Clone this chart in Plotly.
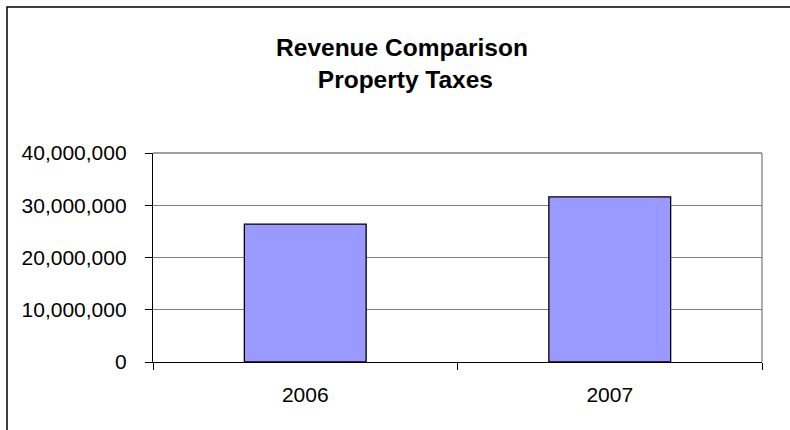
import plotly.graph_objects as go

years = ["2006", "2007"]
revenue = [26390000, 31620000]
y_ticks = [0, 10000000, 20000000, 30000000, 40000000]
y_tick_labels = ["0", "10,000,000", "20,000,000", "30,000,000", "40,000,000"]

W, H = 790, 430
L, R, T, B = 153, 28, 153, 68
pw = W - L - R
ph = H - T - B


def px_x(p):
    return (p - L) / pw


def px_y(p):
    return (H - B - p) / ph


fig = go.Figure()
fig.add_trace(go.Bar(
    x=years, y=revenue,
    marker=dict(color="#9999FF", line=dict(color="black", width=1.3)),
    width=0.4,
))

fig.update_layout(
    width=W, height=H,
    margin=dict(l=L, r=R, t=T, b=B),
    paper_bgcolor="white", plot_bgcolor="white",
    showlegend=False,
    font=dict(family="Liberation Sans, Arial, sans-serif", color="black"),
    title=dict(
        text="<b>Revenue Comparison<br> Property Taxes</b>",
        x=402 / W, xanchor="center",
        y=1 - 56 / H, yanchor="top",
        xref="container", yref="container",
        font=dict(size=24.5, family="Liberation Sans, Arial, sans-serif", color="black"),
    ),
    xaxis=dict(
        showline=True, linecolor="black", linewidth=1.3,
        ticks="outside", tickson="boundaries", ticklen=7, tickcolor="black", tickwidth=1,
        showgrid=False, tickfont=dict(size=21),
        ticklabelstandoff=14,
    ),
    yaxis=dict(
        range=[0, 40000000],
        tickvals=y_ticks, ticktext=y_tick_labels,
        showline=True, linecolor="black", linewidth=1.3,
        ticks="outside", ticklen=7, tickcolor="black", tickwidth=1,
        showgrid=True, gridcolor="#808080", gridwidth=1.3,
        zeroline=False, tickfont=dict(size=21),
        ticklabelstandoff=14,
    ),
    shapes=[
        # plot area top edge (40M gridline) and right edge
        dict(type="line", xref="paper", yref="paper", x0=0, x1=1, y0=1, y1=1,
             line=dict(color="#808080", width=1.3)),
        dict(type="line", xref="paper", yref="paper", x0=1, x1=1, y0=0, y1=1,
             line=dict(color="#808080", width=1.3)),
        # outer chart border
        dict(type="rect", xref="paper", yref="paper",
             x0=px_x(7), x1=px_x(800), y0=px_y(7), y1=px_y(440),
             line=dict(color="black", width=1.5), fillcolor="rgba(0,0,0,0)", layer="below"),
    ],
)

fig.write_html("out.html", config={"displayModeBar": False},
               post_script="document.body.style.margin='0';")
